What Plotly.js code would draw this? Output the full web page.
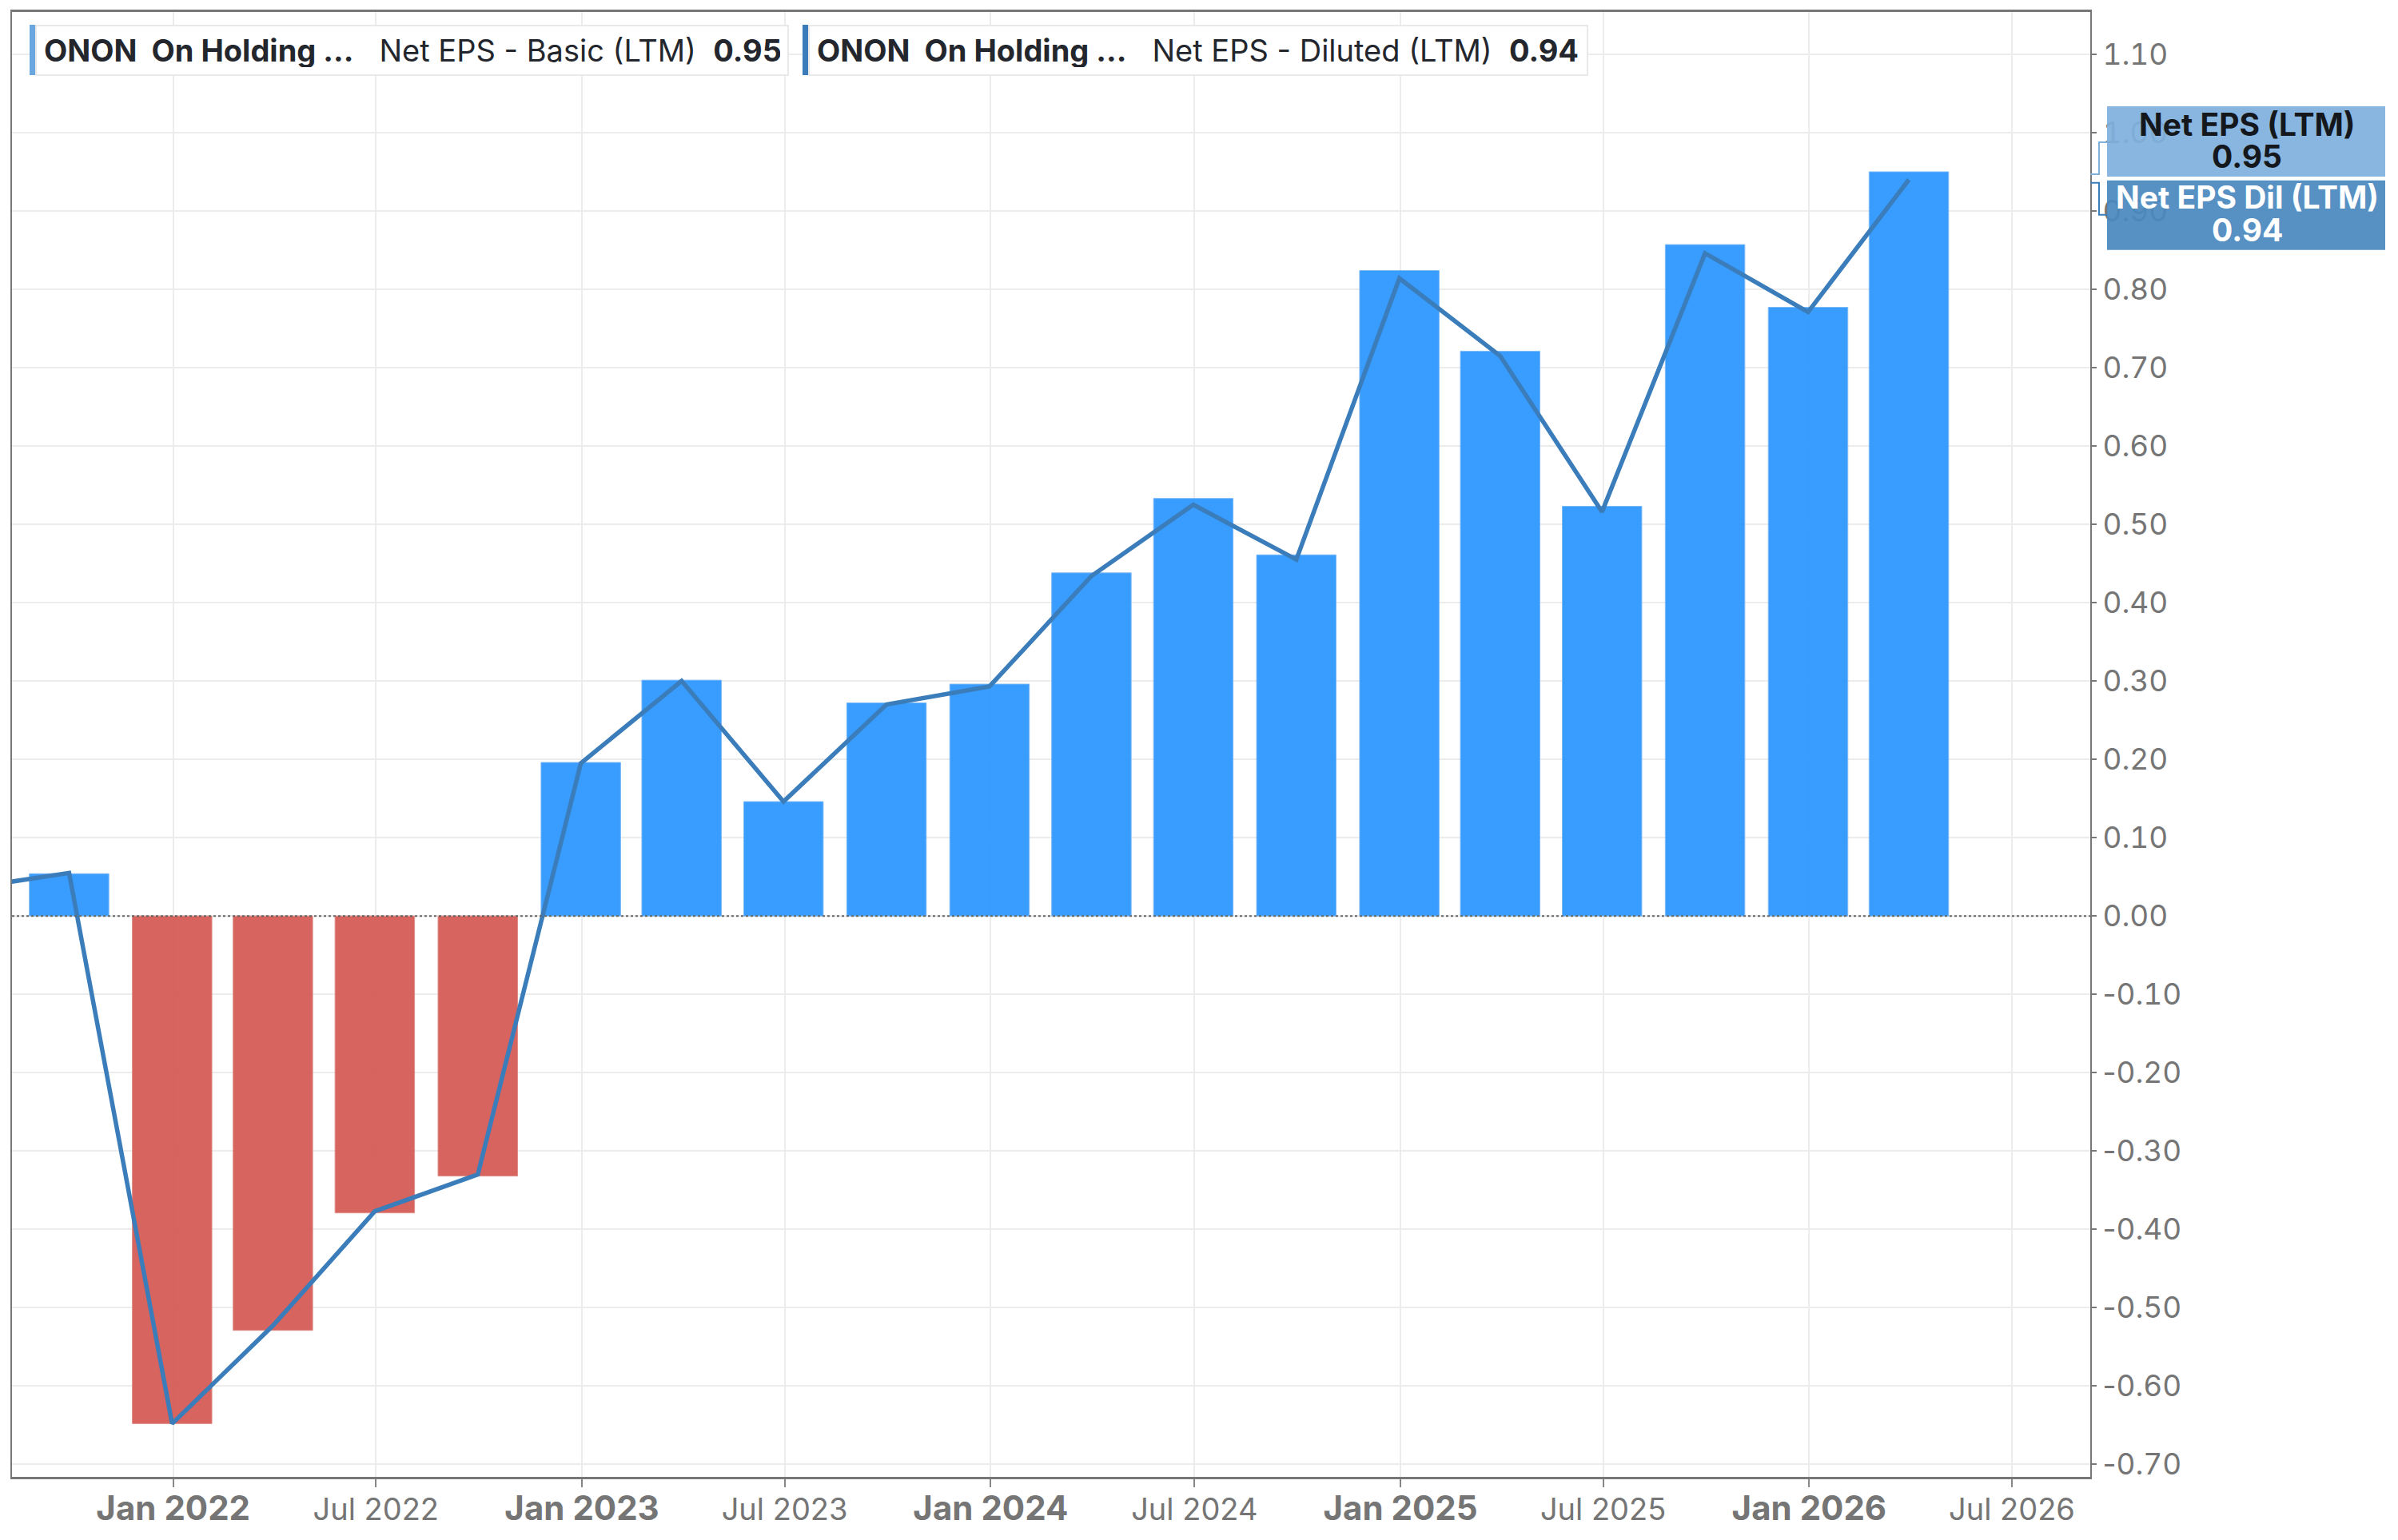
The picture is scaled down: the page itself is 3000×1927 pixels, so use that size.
<!DOCTYPE html>
<html>
<head>
<meta charset="utf-8">
<script src="https://cdn.plot.ly/plotly-3.0.1.min.js"></script>
<style>
  html, body { margin: 0; padding: 0; background: #fff; }
  #chart { width: 3000px; height: 1927px; }
  #chart .ytick text { font-feature-settings: "tnum" 1; font-variant-numeric: tabular-nums !important; }
  #chart .ytick text tspan.neg { font-feature-settings: normal !important; font-variant-numeric: normal !important; }
</style>
</head>
<body>
<div id="chart"></div>
<script>
// quarter end dates (LTM values)
const quarters = ['2021-06-30', '2021-09-30', '2021-12-31', '2022-03-31', '2022-06-30', '2022-09-30',
  '2022-12-31', '2023-03-31', '2023-06-30', '2023-09-30', '2023-12-31', '2024-03-31', '2024-06-30',
  '2024-09-30', '2024-12-31', '2025-03-31', '2025-06-30', '2025-09-30', '2025-12-31', '2026-03-31'];
const epsBasic = [0.035, 0.054, -0.648, -0.529, -0.379, -0.332, 0.196, 0.301, 0.146, 0.272, 0.296,
  0.438, 0.533, 0.461, 0.824, 0.721, 0.523, 0.857, 0.777, 0.95];
const epsDiluted = [0.035, 0.055, -0.648, -0.523, -0.377, -0.330, 0.195, 0.300, 0.146, 0.270, 0.293,
  0.434, 0.525, 0.455, 0.814, 0.715, 0.516, 0.846, 0.771, 0.94];

const xTickVals = ['2022-01-01', '2022-07-01', '2023-01-01', '2023-07-01', '2024-01-01', '2024-07-01',
  '2025-01-01', '2025-07-01', '2026-01-01', '2026-07-01'];
const xTickText = ['Jan 2022', 'Jul 2022', 'Jan 2023', 'Jul 2023', 'Jan 2024', 'Jul 2024',
  'Jan 2025', 'Jul 2025', 'Jan 2026', 'Jul 2026'];
const yTickVals = [-0.7, -0.6, -0.5, -0.4, -0.3, -0.2, -0.1, 0, 0.1, 0.2, 0.3, 0.4, 0.5, 0.6,
  0.7, 0.8, 0.9, 1.0, 1.1];

const FONT = 'Inter, "Noto Sans", sans-serif';
const lastBasic = epsBasic[epsBasic.length - 1];
const lastDil = epsDiluted[epsDiluted.length - 1];
const DAY = 86400000;
const SP = '&nbsp;';

const bars = {
  x: quarters,
  y: epsBasic,
  type: 'bar',
  width: 71 * DAY,
  marker: {
    color: epsBasic.map(v => v < 0 ? '#d6605a' : '#3399ff'),
    opacity: 0.97,
    line: { width: 1, color: epsBasic.map(v => v < 0 ? '#e08a85' : '#7ab8f5') }
  },
  hoverinfo: 'x+y'
};

const line = {
  x: quarters,
  y: epsDiluted,
  type: 'scatter',
  mode: 'lines',
  line: { color: '#3a7dba', width: 5.5 },
  hoverinfo: 'x+y'
};

// x tick labels: Jan bold and larger, Jul plain
const ticktext = xTickText.map(t => t.startsWith('Jan')
  ? '<b><span style="font-size:42px">' + t + '</span></b>'
  : t);
// y tick labels: plain hyphen for negatives
const yTickText = yTickVals.map(v => v.toFixed(2));

const legendText1 = '<b>ONON' + SP + SP + 'On Holding ...</b>' + SP + SP + SP +
  'Net EPS - Basic (LTM)' + SP + SP + '<b>' + lastBasic.toFixed(2) + '</b>';
const legendText2 = '<b>ONON' + SP + SP + 'On Holding ...</b>' + SP + SP + SP +
  'Net EPS - Diluted (LTM)' + SP + SP + '<b>' + lastDil.toFixed(2) + '</b>';

function legendBox(x, text, width) {
  return {
    xref: 'paper', yref: 'paper', x: x, y: 0.99127, xanchor: 'left', yanchor: 'top',
    text: text, showarrow: false, align: 'left',
    width: width, height: 42, borderpad: 9,
    bgcolor: '#fff', bordercolor: '#e9e9e9', borderwidth: 2,
    font: { family: FONT, size: 38, color: '#23272d' }
  };
}

function valueText(y, shift, text, color) {
  return {
    xref: 'paper', yref: 'y', x: 1, y: y, xanchor: 'center', yanchor: 'middle',
    xshift: 196, yshift: shift, text: '<b>' + text + '</b>', showarrow: false,
    font: { family: FONT, size: 39, color: color }
  };
}

const layout = {
  width: 3000,
  height: 1927,
  margin: { l: 15, r: 385, t: 15, b: 79 },
  paper_bgcolor: '#fff',
  plot_bgcolor: '#fff',
  showlegend: false,
  font: { family: FONT, color: '#757575' },
  bargap: 0,
  xaxis: {
    type: 'date',
    range: ['2021-08-10', '2026-09-09'],
    tickvals: xTickVals,
    ticktext: ticktext,
    tickfont: { size: 38, color: '#757575', family: FONT },
    ticks: 'outside',
    ticklen: 10,
    ticklabelstandoff: -5,
    tickcolor: '#888',
    tickwidth: 2,
    showgrid: true,
    gridcolor: '#ececec',
    gridwidth: 2,
    showline: true,
    linecolor: '#777',
    linewidth: 3,
    mirror: true,
    zeroline: false,
    fixedrange: true
  },
  yaxis: {
    side: 'right',
    range: [-0.716, 1.154],
    tickvals: yTickVals,
    ticktext: yTickText,
    tickfont: { size: 37, color: '#757575', family: FONT },
    ticks: 'outside',
    ticklen: 6,
    tickwidth: 2,
    tickcolor: '#777',
    showgrid: true,
    gridcolor: '#ececec',
    gridwidth: 2,
    showline: true,
    linecolor: '#777',
    linewidth: 2,
    mirror: true,
    zeroline: false,
    fixedrange: true
  },
  shapes: [
    // dotted zero line
    { type: 'line', xref: 'paper', x0: 0, x1: 1, yref: 'y', y0: 0, y1: 0,
      line: { color: '#666', width: 2, dash: 'dot' }, layer: 'above' },
    // legend colour strips
    { type: 'rect', xref: 'paper', yref: 'paper', x0: 0.00846, x1: 0.01115, y0: 0.9569, y1: 0.99127,
      fillcolor: '#6aa6e0', line: { width: 0 } },
    { type: 'rect', xref: 'paper', yref: 'paper', x0: 0.38038, x1: 0.38308, y0: 0.9569, y1: 0.99127,
      fillcolor: '#3a7dba', line: { width: 0 } },
    // brackets to the value labels
    { type: 'path', xref: 'paper', xsizemode: 'pixel', xanchor: 1,
      yref: 'y', ysizemode: 'pixel', yanchor: lastBasic,
      path: 'M0,-3 H11 V37 H21', line: { color: '#7fb0de', width: 2 } },
    { type: 'path', xref: 'paper', xsizemode: 'pixel', xanchor: 1,
      yref: 'y', ysizemode: 'pixel', yanchor: lastDil,
      path: 'M0,-4 H11 V-44 H21', line: { color: '#3a7dba', width: 2 } },
    // value label boxes
    { type: 'rect', xref: 'paper', xsizemode: 'pixel', xanchor: 1, x0: 21, x1: 369,
      yref: 'y', ysizemode: 'pixel', yanchor: lastBasic, y0: -6, y1: 82,
      fillcolor: '#7fb0de', opacity: 0.93, line: { width: 0 }, layer: 'above' },
    { type: 'rect', xref: 'paper', xsizemode: 'pixel', xanchor: 1, x0: 21, x1: 369,
      yref: 'y', ysizemode: 'pixel', yanchor: lastDil, y0: -88, y1: -1,
      fillcolor: '#4a89bf', opacity: 0.93, line: { width: 0 }, layer: 'above' }
  ],
  annotations: [
    legendBox(0.01115, legendText1, 921),
    legendBox(0.38308, legendText2, 954),
    valueText(lastBasic, 59, 'Net EPS (LTM)', '#14181d'),
    valueText(lastBasic, 19, lastBasic.toFixed(2), '#14181d'),
    valueText(lastDil, -22, 'Net EPS Dil (LTM)', '#ffffff'),
    valueText(lastDil, -63, lastDil.toFixed(2), '#ffffff')
  ]
};

// keep the hyphen of negative y labels out of the tabular spacing
function splitHyphens(gd) {
  gd.querySelectorAll('.ytick text').forEach(t => {
    const s = t.textContent;
    if (s.startsWith('-') && !t.querySelector('tspan.neg')) {
      t.textContent = '';
      const ns = 'http://www.w3.org/2000/svg';
      const a = document.createElementNS(ns, 'tspan');
      a.setAttribute('class', 'neg');
      a.textContent = '-';
      const b = document.createElementNS(ns, 'tspan');
      b.textContent = s.slice(1);
      t.appendChild(a);
      t.appendChild(b);
    }
  });
}

Plotly.newPlot('chart', [bars, line], layout, { displayModeBar: false, staticPlot: true })
  .then(gd => splitHyphens(gd));
</script>
</body>
</html>
